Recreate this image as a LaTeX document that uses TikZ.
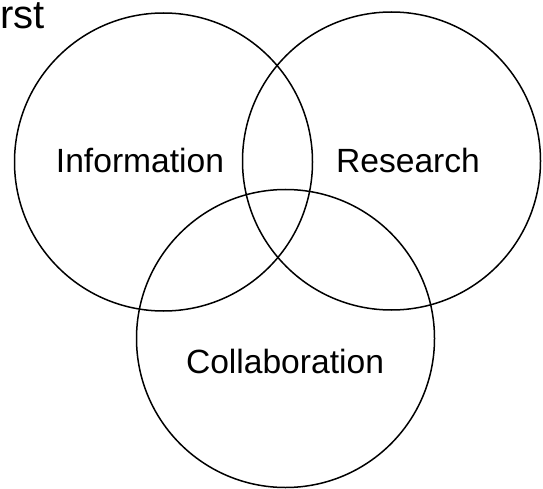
\documentclass[tikz,border=0pt]{standalone}
\usepackage{fontspec}
\setmainfont{Liberation Sans}
\begin{document}
\begin{tikzpicture}[
    x=1pt, y=-1pt,
    every node/.style={font=\fontsize{33.6}{40}\selectfont},
    venn/.style={circle, draw=black, line width=1.5pt, minimum size=298pt,
                 inner sep=0pt},
    lbl/.style={anchor=base, inner sep=0pt},
]
\useasboundingbox (0,0) rectangle (543,489);

% ── Título recortado ──
\node[anchor=base west, inner sep=0pt, text height=23pt, text depth=0pt,
      font=\fontsize{40}{48}\selectfont]
    (title) at (0,28.8) {rst};

% ── Círculos ──
\node[venn] (info) at (163.5,162) {};
\node[venn] (res)  at (391.5,161) {};
\node[venn] (coll) at (285.5,338.5) {};

% ── Etiquetas ──
\node[lbl] (infotxt) at (140,172.7) {Information};
\node[lbl] (restxt)  at (408,172.7) {Research};
\node[lbl] (colltxt) at (285,373)   {Collaboration};
\end{tikzpicture}
\end{document}
